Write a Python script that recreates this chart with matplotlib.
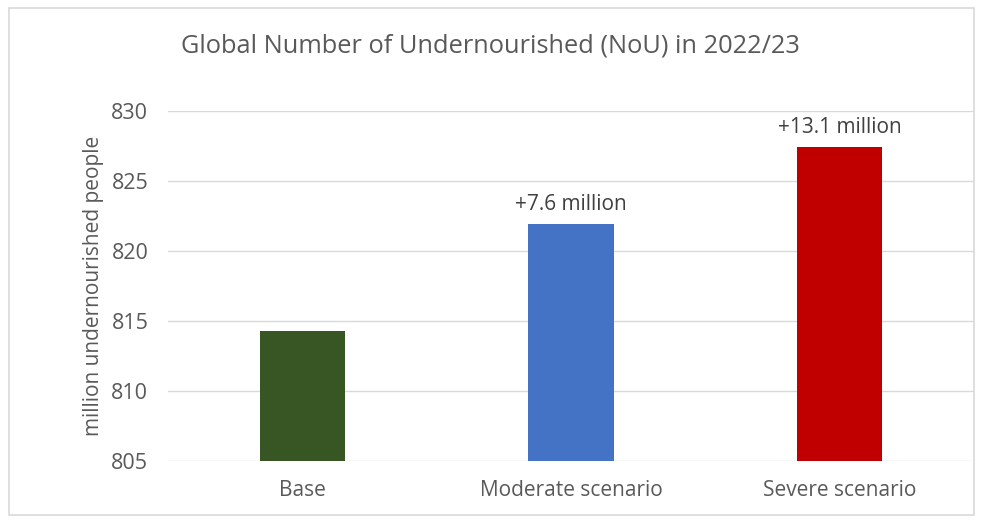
import matplotlib.pyplot as plt
from matplotlib.patches import Rectangle

categories = ["Base", "Moderate scenario", "Severe scenario"]
values = [814.3, 821.9, 827.4]
increase_labels = ["", "+7.6 million", "+13.1 million"]
colors = ["#375623", "#4472C4", "#C00000"]
yticks = [805, 810, 815, 820, 825, 830]

plt.rcParams['font.family'] = ['Open Sans', 'DejaVu Sans']
txt = '#595959'

fig = plt.figure(figsize=(9.87, 5.28), dpi=100)
fig.patches.append(Rectangle((0.009, 0.025), 0.978, 0.96, transform=fig.transFigure,
                             fill=False, edgecolor='#d9d9d9', linewidth=1.2))
ax = fig.add_axes([0.170, 0.127, 0.817, 0.663])

x = range(len(categories))
bars = ax.bar(x, values, width=0.317, color=colors, bottom=0)
ax.set_ylim(805, 830)
ax.set_xlim(-0.5, 2.5)
ax.set_yticks(yticks)
ax.set_xticks(list(x))
ax.set_xticklabels(categories)
ax.tick_params(axis='both', length=0, colors=txt)
ax.tick_params(axis='y', pad=14, labelsize=15.5)
ax.tick_params(axis='x', pad=14, labelsize=15)
ax.grid(axis='y', color='#d9d9d9', linewidth=1)
ax.set_axisbelow(True)
for s in ax.spines.values():
    s.set_visible(False)
ax.set_ylabel("million undernourished people", color=txt, fontsize=15, labelpad=5)

for b, lab in zip(bars, increase_labels):
    if lab:
        ax.annotate(lab, (b.get_x() + b.get_width() / 2, b.get_height()),
                    xytext=(0, 7), textcoords='offset points', ha='center', va='bottom',
                    color='#404040', fontsize=15)

fig.text(0.497, 0.912, "Global Number of Undernourished (NoU) in 2022/23",
         ha='center', va='center', color=txt, fontsize=18.3)

plt.savefig('out.png')
